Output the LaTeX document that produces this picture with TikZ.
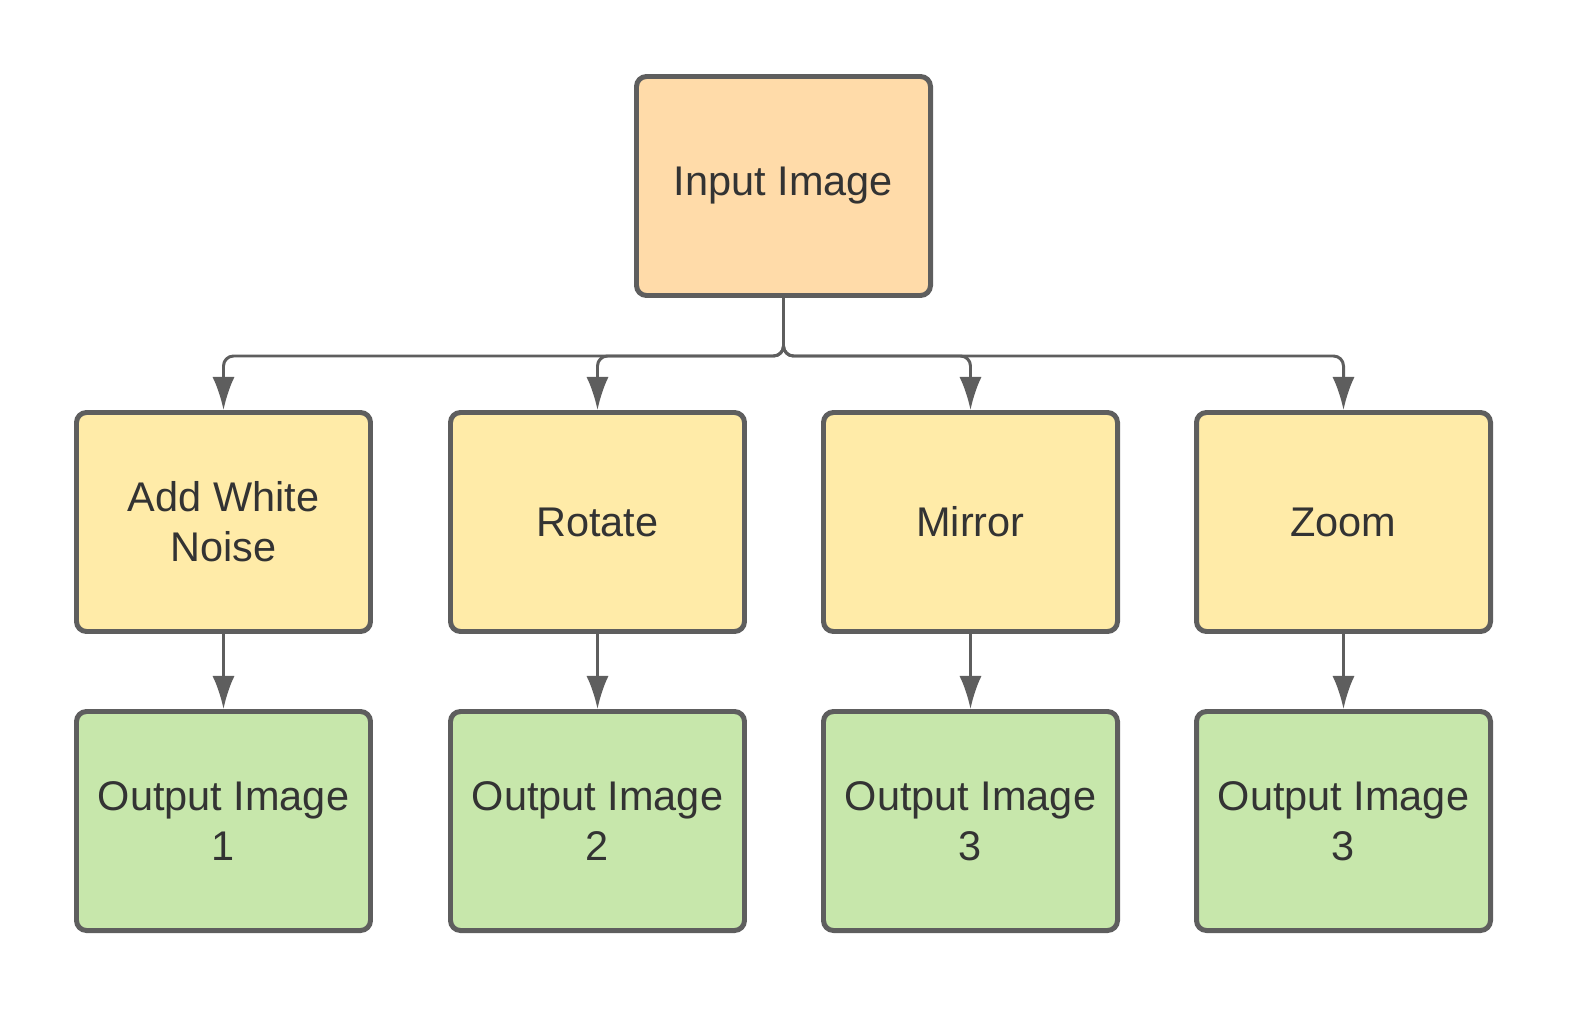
\documentclass[tikz,border=0pt]{standalone}
\usepackage{fontspec}
\setmainfont{Liberation Sans}
\usetikzlibrary{arrows.meta}
\definecolor{edgegray}{HTML}{5E5E5E}
\definecolor{textgray}{HTML}{333333}
\definecolor{inputfill}{HTML}{FFDBA9}
\definecolor{stepfill}{HTML}{FFEBA8}
\definecolor{outfill}{HTML}{C7E7AB}

\begin{document}
\begin{tikzpicture}[
  box/.style={draw=edgegray, line width=1.42pt, rounded corners=0.1cm,
    minimum width=2.94cm, minimum height=2.19cm, align=center,
    text=textgray, font=\fontsize{11.8}{14.2}\selectfont},
  conn/.style={draw=edgegray, line width=0.85pt, rounded corners=0.1cm,
    arrows={-{Latex[length=9.4pt,width=6.3pt]}}}
]
\useasboundingbox (0,0) rectangle (15.75,-10.13);

\node[box, fill=inputfill] at (7.835,-1.86) (input) {Input Image};

\node[box, fill=stepfill] at (2.235,-5.22) (noise) {Add White\\Noise};
\node[box, fill=stepfill] at (5.975,-5.22) (rotate) {Rotate};
\node[box, fill=stepfill] at (9.705,-5.22) (mirror) {Mirror};
\node[box, fill=stepfill] at (13.435,-5.22) (zoom) {Zoom};

\node[box, fill=outfill] at (2.235,-8.21) (out1) {Output Image\\1};
\node[box, fill=outfill] at (5.975,-8.21) (out2) {Output Image\\2};
\node[box, fill=outfill] at (9.705,-8.21) (out3) {Output Image\\3};
\node[box, fill=outfill] at (13.435,-8.21) (out4) {Output Image\\3};

\foreach \child in {noise, rotate, mirror, zoom}
  \draw[conn] (input.south) -- ++(0,-0.58) -| (\child.north);

\draw[conn] (noise) to (out1);
\draw[conn] (rotate) to (out2);
\draw[conn] (mirror) to (out3);
\draw[conn] (zoom) to (out4);
\end{tikzpicture}
\end{document}
